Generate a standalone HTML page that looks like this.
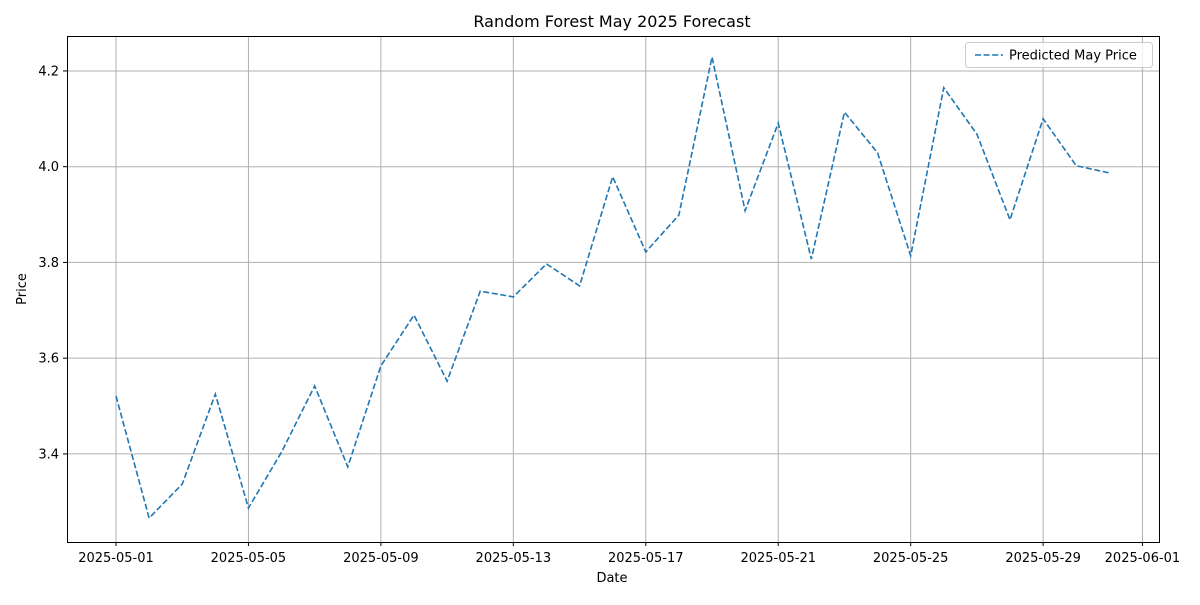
<!DOCTYPE html>
<html><head><meta charset="utf-8"><style>
body{margin:0;background:#fff;font-family:"Liberation Sans","DejaVu Sans",sans-serif}
svg text{font-family:"DejaVu Sans","Liberation Sans",sans-serif;font-size:13px;fill:#000}
</style></head><body>
<svg id="c" width="1200" height="600"></svg>
<script>
const dates=["2025-05-01","2025-05-02","2025-05-03","2025-05-04","2025-05-05","2025-05-06","2025-05-07","2025-05-08","2025-05-09","2025-05-10","2025-05-11","2025-05-12","2025-05-13","2025-05-14","2025-05-15","2025-05-16","2025-05-17","2025-05-18","2025-05-19","2025-05-20","2025-05-21","2025-05-22","2025-05-23","2025-05-24","2025-05-25","2025-05-26","2025-05-27","2025-05-28","2025-05-29","2025-05-30","2025-05-31"];
const prices=[3.521,3.266,3.337,3.525,3.287,3.404,3.542,3.373,3.584,3.690,3.552,3.740,3.728,3.797,3.751,3.979,3.822,3.899,4.229,3.908,4.091,3.807,4.114,4.029,3.814,4.165,4.068,3.889,4.100,4.002,3.987];
const xTickLabels=["2025-05-01","2025-05-05","2025-05-09","2025-05-13","2025-05-17","2025-05-21","2025-05-25","2025-05-29","2025-06-01"];
const yTicks=[3.4,3.6,3.8,4.0,4.2];
const NS="http://www.w3.org/2000/svg";
const svg=document.getElementById('c');
const L=67,R=1159,T=36,B=542;
const day0=Date.UTC(2025,4,1);
const dayOf=s=>(Date.parse(s+"T00:00:00Z")-day0)/86400000;
const xMin=-1.48,xMax=31.5,yMin=3.216,yMax=4.273;
const x=d=>L+(d-xMin)/(xMax-xMin)*(R-L);
const y=v=>B-(v-yMin)/(yMax-yMin)*(B-T);
function mk(t,a,p){const e=document.createElementNS(NS,t);for(const k in a)e.setAttribute(k,a[k]);(p||svg).appendChild(e);return e;}
// grid + ticks
xTickLabels.forEach(s=>{const px=x(dayOf(s));
 const g=mk('line',{x1:px,x2:px,y1:T,y2:B,stroke:'#b0b0b0','stroke-width':1});
 
 
 mk('line',{x1:px,x2:px,y1:B,y2:B+4,stroke:'#000'});
 const t=mk('text',{x:px,y:B+20,'text-anchor':'middle'});t.textContent=s;
 
 
});
yTicks.forEach(v=>{const py=y(v);
 const g=mk('line',{x1:L,x2:R,y1:py,y2:py,stroke:'#b0b0b0','stroke-width':1});
 
 
 mk('line',{x1:L-4,x2:L,y1:py,y2:py,stroke:'#000'});
 const t=mk('text',{x:L-8,y:py+4.5,'text-anchor':'end'});t.textContent=v.toFixed(1);
 
 
});
// series
const pts=prices.map((v,i)=>x(dayOf(dates[i]))+','+y(v)).join(' ');
const line=mk('polyline',{points:pts,fill:'none',stroke:'#1f77b4','stroke-width':1.6,'stroke-dasharray':'6,2.6'});


// frame
const fr=mk('rect',{x:L+0.5,y:T+0.5,width:R-L,height:B-T,fill:'none',stroke:'#000','stroke-width':1});


</script>
<svg style="position:absolute;left:0;top:0" width="1200" height="600">
<text x="612" y="27" text-anchor="middle" style="font-size:16px">Random Forest May 2025 Forecast</text>
<text x="612" y="582" text-anchor="middle">Date</text>
<text transform="translate(26,289) rotate(-90)" text-anchor="middle">Price</text>
<g>
<rect x="965.5" y="42.5" width="187" height="25" rx="3" fill="#fff" fill-opacity="0.8" stroke="#ccc"/>
<line x1="975" x2="1003" y1="55" y2="55" stroke="#1f77b4" stroke-width="1.6" stroke-dasharray="6,2.6"/>
<text x="1009" y="59.5">Predicted May Price</text>
</g>
</svg>
</body></html>
